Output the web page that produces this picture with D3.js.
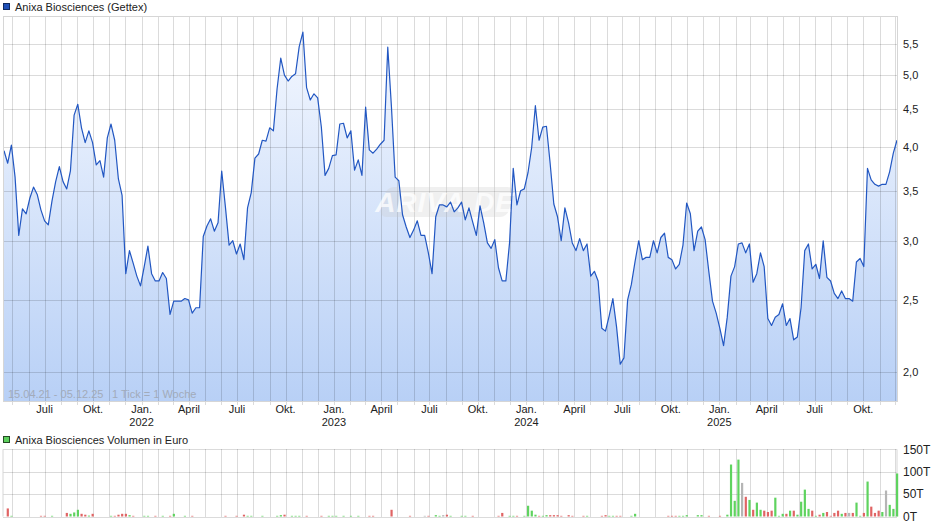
<!DOCTYPE html>
<html>
<head>
<meta charset="utf-8">
<script src="https://cdn.jsdelivr.net/npm/d3@7"></script>
<style>
  html, body { margin: 0; padding: 0; background: #fff; }
  svg { display: block; font-family: "Liberation Sans", Arial, sans-serif; }
</style>
</head>
<body>
<svg id="chart" width="940" height="526"></svg>
<script>
// ---------------- DATA ----------------
const seriesTitle = "Anixa Biosciences (Gettex)";
const volumeTitle = "Anixa Biosciences Volumen in Euro";
const rangeText = "15.04.21 - 05.12.25";
const tickText = "1 Tick = 1 Woche";
const startDate = "2021-04-15";   // first weekly close
const endDate = "2025-12-04";     // last weekly close

// weekly closing prices (EUR)
const prices = [
  3.96,3.81,4.03,3.65,3.05,3.31,3.26,3.42,3.54,3.46,
  3.30,3.19,3.15,3.39,3.60,3.77,3.60,3.52,3.72,4.42,
  4.57,4.25,4.06,4.21,4.06,3.79,3.84,3.65,4.12,4.30,
  4.09,3.63,3.45,2.71,2.91,2.80,2.69,2.61,2.77,2.95,
  2.71,2.65,2.65,2.72,2.67,2.39,2.49,2.49,2.49,2.51,
  2.50,2.40,2.44,2.44,3.04,3.14,3.21,3.09,3.17,3.72,
  3.33,2.96,3.00,2.88,2.97,2.83,3.32,3.48,3.87,3.92,
  4.09,4.08,4.25,4.21,4.79,5.27,5.00,4.91,4.98,5.02,
  5.46,5.71,4.81,4.63,4.72,4.66,4.26,3.67,3.75,3.90,
  3.91,4.30,4.31,4.12,4.21,3.73,3.85,3.67,4.53,3.97,
  3.93,3.98,4.04,4.09,5.45,4.53,3.65,3.61,3.25,3.13,
  3.03,3.10,3.19,3.05,3.05,2.89,2.71,3.23,3.35,3.35,
  3.33,3.38,3.28,3.32,3.38,3.20,3.32,3.18,3.05,3.34,
  3.17,2.98,2.93,3.01,2.76,2.65,2.65,2.98,3.75,3.35,
  3.50,3.52,3.70,4.00,4.55,4.09,4.26,4.27,3.81,3.36,
  3.23,3.00,3.32,3.17,2.98,2.91,3.02,2.91,2.97,2.69,
  2.73,2.65,2.29,2.27,2.38,2.51,2.30,2.05,2.09,2.50,
  2.62,2.81,3.00,2.83,2.85,2.85,3.00,2.89,3.03,3.07,
  2.85,2.83,2.75,2.79,2.96,3.37,3.26,2.91,3.09,3.13,
  3.01,2.73,2.49,2.40,2.29,2.17,2.37,2.69,2.77,2.97,
  2.98,2.89,2.97,2.64,2.71,2.89,2.77,2.36,2.31,2.37,
  2.39,2.47,2.31,2.36,2.21,2.23,2.44,2.91,2.97,2.75,
  2.79,2.67,3.00,2.68,2.65,2.55,2.51,2.57,2.51,2.51,
  2.49,2.81,2.84,2.77,3.75,3.62,3.57,3.55,3.57,3.57,
  3.71,3.93,4.09
];

// weekly volume (thousand EUR), by week index; direction u=up, d=down, n=unchanged
const volWeeks = [1,2,10,11,13,17,18,19,20,21,22,23,24,29,30,31,32,33,34,35,38,39,41,43,45,46,49,51,60,63,65,66,67,70,74,75,76,78,79,80,82,86,88,89,90,92,94,96,99,100,105,110,114,115,117,118,119,120,121,124,125,127,134,135,137,138,139,141,142,143,144,145,146,147,148,149,150,151,153,154,157,158,162,163,164,165,166,167,170,171,180,181,182,183,184,185,188,189,191,194,196,197,198,199,200,201,202,203,204,205,206,207,208,209,210,211,212,213,214,215,216,217,218,219,220,221,222,223,224,225,226,227,228,229,230,231,232,233,234,235,236,237,238,239,240,241,242];
const volValues = [18,1.5,1.5,1.5,1.5,8,6,9,15,6,4,2,6,1.5,1.5,4,6,6,3,1.5,1.5,1.5,1.5,1.5,1.5,6,1.5,1.5,1.5,1.5,4,1.5,1.5,1.5,1.5,3,4,1.5,1.5,1.5,1.5,1.5,1.5,1.5,1.5,1.5,1.5,1.5,1.5,1.5,15,1.5,1.5,1.5,3,1.5,3,4,1.5,1.5,1.5,1.5,1.5,8,1.5,1.5,1.5,1.5,24,13,4,1.5,1.5,3,3,3,3,1.5,3,1.5,1.5,1.5,1.5,3,1.5,1.5,1.5,1.5,1.5,6,1.5,1.5,1.5,1.5,1.5,3,3,3,1.5,1.5,4,116,35,127,75,44,37,15,31,15,13,10,13,42,1.5,6,6,13,13,4,33,60,17,13,1.5,4,8,10,1.5,8,13,6,8,8,8,31,1.5,8,78,22,8,13,10,58,26,17,96];
const volDir = ["d","u","d","d","u","d","u","u","u","d","d","u","d","u","d","d","d","d","u","d","u","u","d","u","d","u","u","d","d","d","d","u","u","u","u","u","d","u","u","u","d","d","u","u","u","u","u","u","d","d","d","d","n","d","u","u","n","d","u","u","u","d","d","d","u","u","d","u","u","u","u","d","u","u","d","d","d","d","d","d","d","u","d","d","u","u","d","d","u","u","d","d","d","u","u","u","u","u","d","d","u","u","u","u","n","d","u","d","u","u","d","d","d","u","u","u","d","u","d","u","u","u","u","d","u","d","u","d","d","d","d","u","d","n","d","u","u","d","u","d","d","d","u","n","u","u","u"];

const priceTicks = [2.0, 2.5, 3.0, 3.5, 4.0, 4.5, 5.0, 5.5];
const volTicks = [0, 50, 100, 150];
const volTickLabels = ["0T", "50T", "100T", "150T"];
const monthLabels = ["Jan.", "", "", "April", "", "", "Juli", "", "", "Okt.", "", ""];

// ---------------- CHART ----------------
const svg = d3.select("#chart");
const parse = d3.timeParse("%Y-%m-%d");
const start = parse(startDate), end = parse(endDate);
const dates = prices.map((_, i) => d3.timeDay.offset(start, 7 * i));
const data = prices.map((v, i) => ({ date: dates[i], v }));

const L = 3, R = 897, T = 16, B = 401;
const VT = 449.3, VB = 516.5;

const x = d3.scaleTime().domain([start, end]).range([4, 897]);
const y = d3.scaleLog().domain([1.83, 6.0]).range([B, T]);
const yv = d3.scaleLinear().domain([0, 150]).range([VB, VT]);

const months = d3.timeMonth.range(d3.timeMonth.ceil(start), end);
const quarters = months.filter(m => m.getMonth() % 3 === 0);

const gridColor = "rgba(0,0,0,0.14)";
const font = "11px";

// gradient
const defs = svg.append("defs");
const grad = defs.append("linearGradient").attr("id", "areaGrad")
  .attr("gradientUnits", "userSpaceOnUse").attr("x1", 0).attr("x2", 0).attr("y1", T).attr("y2", B);
grad.append("stop").attr("offset", "0%").attr("stop-color", "#f6f9ff");
grad.append("stop").attr("offset", "100%").attr("stop-color", "#b8d0f6");

// legend
svg.append("rect").attr("x", 3.5).attr("y", 3.5).attr("width", 6).attr("height", 6)
  .attr("fill", "#1f50b8").attr("stroke", "#102a60").attr("stroke-width", 1);
svg.append("text").attr("x", 15).attr("y", 11).attr("font-size", font).attr("fill", "#222").text(seriesTitle);

// area + line
const area = d3.area().x(d => x(d.date)).y0(B).y1(d => y(d.v));
const line = d3.line().x(d => x(d.date)).y(d => y(d.v));
svg.append("path").datum(data).attr("d", area).attr("fill", "url(#areaGrad)");

// price grid (axes used as grid)
svg.append("g").attr("transform", `translate(0,${B + 4})`)
  .call(d3.axisBottom(x).tickValues(months).tickSize(-(B + 4 - T)).tickFormat(""))
  .call(g => g.select(".domain").remove())
  .call(g => g.selectAll(".tick line").attr("stroke", gridColor).attr("shape-rendering", "crispEdges"));
svg.append("g").attr("transform", `translate(${L},0)`)
  .call(d3.axisLeft(y).tickValues(priceTicks).tickSize(-(R - L)).tickFormat(""))
  .call(g => g.select(".domain").remove())
  .call(g => g.selectAll(".tick line").attr("stroke", gridColor).attr("shape-rendering", "crispEdges"));

// watermark
const wm = svg.append("g").attr("transform", "translate(445,202)");
wm.append("rect").attr("x", -62).attr("y", -15).attr("width", 128).attr("height", 30).attr("rx", 7)
  .attr("transform", "skewX(-14)").attr("fill", "rgba(200,200,200,0.28)");
wm.append("text").attr("text-anchor", "middle").attr("y", 10).attr("font-size", "28px")
  .attr("font-style", "italic").attr("font-weight", "bold").attr("letter-spacing", "1px")
  .attr("fill", "rgba(255,255,255,0.75)").text("ARIVA.DE");

svg.append("path").datum(data).attr("d", line).attr("fill", "none")
  .attr("stroke", "#2257c2").attr("stroke-width", 1.2).attr("stroke-linejoin", "round");

// border
svg.append("rect").attr("x", L).attr("y", T).attr("width", R - L).attr("height", B - T)
  .attr("fill", "none").attr("stroke", "#d6d6d6").attr("shape-rendering", "crispEdges");

// range text
svg.append("text").attr("x", 8).attr("y", 398).attr("font-size", font).attr("fill", "#a2abba").text(rangeText);
svg.append("text").attr("x", 112).attr("y", 398).attr("font-size", font).attr("fill", "#a2abba").text(tickText);

// y labels (price)
svg.append("g").attr("transform", `translate(${R},0)`)
  .call(d3.axisRight(y).tickValues(priceTicks).tickSize(0).tickPadding(6)
    .tickFormat(d => d3.format(".1f")(d).replace(".", ",")))
  .call(g => g.select(".domain").remove())
  .call(g => g.selectAll("text").attr("font-size", font).attr("fill", "#222").attr("font-family", null));

// x labels
const xl = svg.append("g");
xl.selectAll("text.m").data(quarters).join("text").attr("class", "m")
  .attr("x", d => x(d)).attr("y", 413).attr("text-anchor", "middle")
  .attr("font-size", font).attr("fill", "#222").text(d => monthLabels[d.getMonth()]);
xl.selectAll("text.yr").data(quarters.filter(d => d.getMonth() === 0)).join("text").attr("class", "yr")
  .attr("x", d => x(d)).attr("y", 426).attr("text-anchor", "middle")
  .attr("font-size", font).attr("fill", "#222").text(d => d.getFullYear());

// ---------------- VOLUME ----------------
svg.append("rect").attr("x", 3.5).attr("y", 436.5).attr("width", 6).attr("height", 6)
  .attr("fill", "#5ccf5c").attr("stroke", "#244a24").attr("stroke-width", 1);
svg.append("text").attr("x", 15).attr("y", 444).attr("font-size", font).attr("fill", "#222").text(volumeTitle);

svg.append("g").attr("transform", `translate(0,${VB})`)
  .call(d3.axisBottom(x).tickValues(months).tickSize(-(VB - VT)).tickFormat(""))
  .call(g => g.select(".domain").remove())
  .call(g => g.selectAll(".tick line").attr("stroke", gridColor).attr("shape-rendering", "crispEdges"));
svg.append("g").attr("transform", `translate(${L},0)`)
  .call(d3.axisLeft(yv).tickValues(volTicks).tickSize(-(R - L)).tickFormat(""))
  .call(g => g.select(".domain").remove())
  .call(g => g.selectAll(".tick line").attr("stroke", gridColor).attr("shape-rendering", "crispEdges"));
svg.append("line").attr("x1", L).attr("x2", L).attr("y1", VT).attr("y2", VB).attr("stroke", "#d6d6d6");
svg.append("line").attr("x1", R).attr("x2", R).attr("y1", VT).attr("y2", VB).attr("stroke", "#d6d6d6");

const volColor = { u: "#5fd35f", d: "#e06464", n: "#b5b5b5" };
const vol = volWeeks.map((w, i) => ({ date: d3.timeDay.offset(start, 7 * w), v: volValues[i], dir: volDir[i] }));
svg.append("g").selectAll("rect").data(vol).join("rect")
  .attr("x", d => x(d.date) - 1).attr("width", 2.2)
  .attr("y", d => yv(d.v)).attr("height", d => VB - yv(d.v))
  .attr("fill", d => volColor[d.dir]);

svg.append("g").attr("transform", `translate(${R},0)`)
  .call(d3.axisRight(yv).tickValues(volTicks).tickSize(0).tickPadding(6)
    .tickFormat((d, i) => volTickLabels[i]))
  .call(g => g.select(".domain").remove())
  .call(g => g.selectAll("text").attr("font-size", "12px").attr("fill", "#222").attr("font-family", null));
</script>
</body>
</html>
